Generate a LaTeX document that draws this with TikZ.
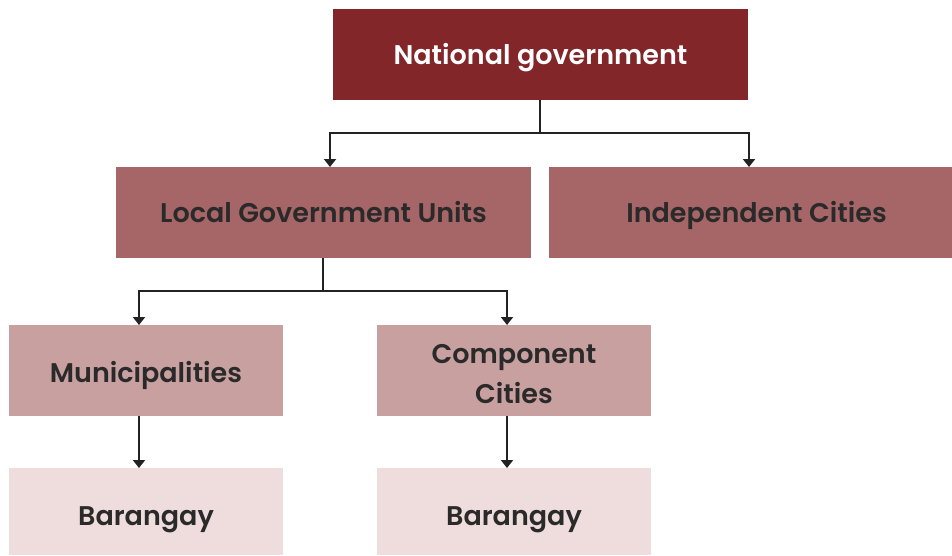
\documentclass[tikz,border=0pt]{standalone}
\usepackage{fontspec}
\setmainfont{Poppins}[BoldFont={Poppins SemiBold}]
\usetikzlibrary{arrows.meta}
\definecolor{cA}{HTML}{822629}
\definecolor{cB}{HTML}{A66566}
\definecolor{cC}{HTML}{C9A0A0}
\definecolor{cD}{HTML}{EFDCDD}
\definecolor{txt}{HTML}{2A2A2A}
\definecolor{ln}{HTML}{222222}
\tikzset{
  x=1pt,y=-1pt,
  box/.style={inner sep=0pt, outer sep=0pt, anchor=base, font=\fontsize{27}{40}\selectfont\bfseries, text=txt, align=center},
  conn/.style={draw=ln, line width=2pt, -{Triangle[width=12pt,length=8pt]}},
  plain/.style={draw=ln, line width=2pt}
}
\begin{document}
\begin{tikzpicture}
\useasboundingbox (0,0) rectangle (952,555);
\fill[cA] (333,9) rectangle (748,100);
\node[box,text=white] (nat) at (540.5,64) {National government};
\fill[cB] (116,167) rectangle (531,258);
\node[box] (lgu) at (323.5,222) {Local Government Units};
\fill[cB] (549,167) rectangle (952,258);
\node[box] (ind) at (756.5,222) {Independent Cities};
\fill[cC] (9,325) rectangle (283,416);
\node[box] (mun) at (146,382) {Municipalities};
\fill[cC] (377,325) rectangle (651,416);
\node[box] (com) at (514,403) {Component\\Cities};
\fill[cD] (9,468) rectangle (283,555);
\node[box] (bar1) at (146,525) {Barangay};
\fill[cD] (377,468) rectangle (651,555);
\node[box] (bar2) at (514,525) {Barangay};
% connectors
\coordinate (natS) at (540,100);
\coordinate (natJ) at (540,133);
\coordinate (lguN) at (330,167);
\coordinate (indN) at (749,167);
\draw[plain] (natS) -- (natJ);
\draw[conn] (natJ) -| (lguN);
\draw[conn] (natJ) -| (indN);
\coordinate (lguS) at (323,258);
\coordinate (lguJ) at (323,291);
\coordinate (munN) at (139,325);
\coordinate (comN) at (507,325);
\draw[plain] (lguS) -- (lguJ);
\draw[conn] (lguJ) -| (munN);
\draw[conn] (lguJ) -| (comN);
\coordinate (munS) at (139,416);
\coordinate (bar1N) at (139,468);
\coordinate (comS) at (507,416);
\coordinate (bar2N) at (507,468);
\draw[conn] (munS) -- (bar1N);
\draw[conn] (comS) -- (bar2N);
\end{tikzpicture}
\end{document}
